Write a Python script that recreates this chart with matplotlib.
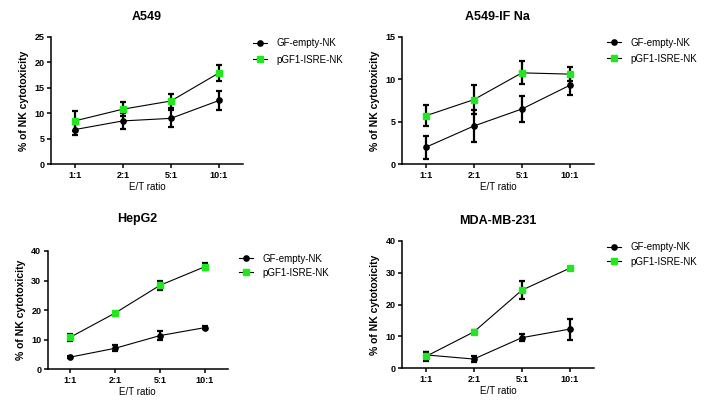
import numpy as np
import matplotlib
matplotlib.use('Agg')
import matplotlib.pyplot as plt

plt.rcParams['font.family'] = ['Liberation Sans', 'DejaVu Sans']

ratios = ['1:1', '2:1', '5:1', '10:1']
series = ['GF-empty-NK', 'pGF1-ISRE-NK']
titles = ['A549', 'A549-IF Na', 'HepG2', 'MDA-MB-231']

# mean and error (SD)
a549_gf = [6.8, 8.5, 9.0, 12.5]
a549_gf_err = [1.0, 1.6, 1.65, 1.9]
a549_ps = [8.5, 10.8, 12.4, 17.9]
a549_ps_err = [2.0, 1.4, 1.4, 1.5]

ifn_gf = [2.0, 4.5, 6.5, 9.3]
ifn_gf_err = [1.35, 1.9, 1.5, 1.15]
ifn_ps = [5.7, 7.6, 10.75, 10.6]
ifn_ps_err = [1.25, 1.7, 1.35, 0.8]

hep_gf = [4.1, 7.1, 11.4, 14.1]
hep_gf_err = [0.3, 1.0, 1.6, 0.4]
hep_ps = [10.8, 19.0, 28.4, 34.7]
hep_ps_err = [1.2, 0.4, 1.6, 1.15]

mda_gf = [4.2, 2.9, 9.6, 12.3]
mda_gf_err = [0.9, 1.0, 1.15, 3.3]
mda_ps = [3.7, 11.4, 24.5, 31.4]
mda_ps_err = [1.3, 0.6, 2.8, 0.3]

ymax = [25, 15, 40, 40]
ystep = [5, 5, 10, 10]

green = '#1fe81f'

fig = plt.figure(figsize=(7.08, 4.0), dpi=100)

# axes boxes in pixels: left, top, right, bottom
boxes = [(50.7, 36.7, 243, 164.3),
         (401.7, 36.7, 594, 164.3),
         (47.5, 251, 227.5, 369.3),
         (401.7, 240.7, 594, 368.3)]
title_y = [16.7, 17.2, 218.8, 220.8]
leg_pos = [(253, 38.5), (607, 37.5), (239, 253.5), (607, 242.5)]
leg_space = [0.62, 0.62, 0.45, 0.45]

data = [(a549_gf, a549_gf_err, a549_ps, a549_ps_err),
        (ifn_gf, ifn_gf_err, ifn_ps, ifn_ps_err),
        (hep_gf, hep_gf_err, hep_ps, hep_ps_err),
        (mda_gf, mda_gf_err, mda_ps, mda_ps_err)]

x = np.arange(len(ratios))
for i in range(4):
    l, t, r, b = boxes[i]
    ax = fig.add_axes([l/708, 1 - b/400, (r - l)/708, (b - t)/400])
    gf, gf_err, ps, ps_err = data[i]

    ax.errorbar(x, gf, yerr=gf_err, fmt='none', ecolor='black', elinewidth=1.6,
                capsize=2.4, capthick=1.6, zorder=2)
    ax.errorbar(x, ps, yerr=ps_err, fmt='none', ecolor='black', elinewidth=1.6,
                capsize=2.4, capthick=1.6, zorder=2)
    ax.plot(x, gf, color='black', lw=0.8, marker='o', ms=3.8,
            mfc='black', mec='black', label=series[0], zorder=3)
    ax.plot(x, ps, color='black', lw=0.8, marker='s', ms=4.6,
            mfc=green, mec=green, label=series[1], zorder=3)

    ax.set_xlim(-0.5, 3.5)
    ax.set_ylim(0, ymax[i])
    ax.set_xticks(x)
    ax.set_xticklabels(ratios)
    ax.set_yticks(np.arange(0, ymax[i] + 1, ystep[i]))
    for s in ['top', 'right']:
        ax.spines[s].set_visible(False)
    for s in ['left', 'bottom']:
        ax.spines[s].set_linewidth(1.1)
    ax.tick_params(direction='out', length=3, width=1.1, pad=1.5, labelsize=6.5)
    for lab in ax.get_xticklabels() + ax.get_yticklabels():
        lab.set_fontweight('bold')

    ax.set_xlabel('E/T ratio', fontsize=7, labelpad=2)
    ax.set_ylabel('% of NK cytotoxicity', fontsize=7.5, fontweight='bold', labelpad=4)

    fig.text((l + r) / 2 / 708, 1 - title_y[i] / 400, titles[i], fontsize=9,
             fontweight='bold', ha='center', va='center')

    lx, ly = leg_pos[i]
    ax.legend(loc='upper left', bbox_to_anchor=(lx / 708, 1 - ly / 400),
              bbox_transform=fig.transFigure, frameon=False, fontsize=7,
              borderpad=0, borderaxespad=0, handlelength=1.4,
              handletextpad=1.0, labelspacing=leg_space[i])

plt.savefig('out.png', dpi=100)
